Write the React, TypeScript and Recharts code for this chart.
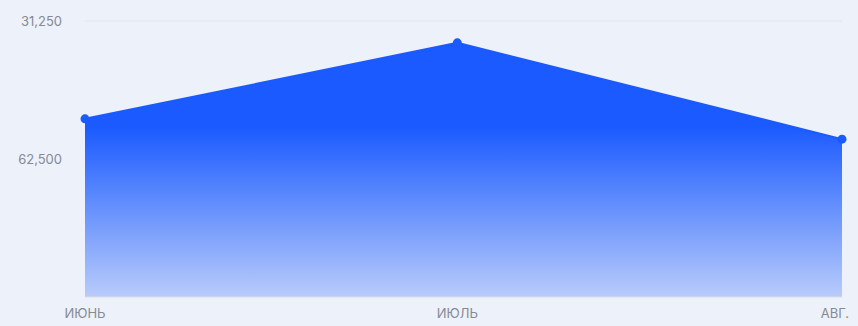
import { AreaChart, Area, XAxis, YAxis, CartesianGrid } from 'recharts';

const months = ['2023-06-01', '2023-07-01', '2023-08-01'];
const monthLabels = ['ИЮНЬ', 'ИЮЛЬ', 'АВГ.'];
const values = [53400, 36200, 58000];
const yTicks = [31250, 62500];

const times = months.map((m) => new Date(m + 'T00:00:00Z').getTime());
const data = times.map((t, i) => ({ t, value: values[i] }));

const fmt = (v: number) => v.toLocaleString('en-US');

const MonthTick = (props: any) => {
    const { y, payload } = props;
    const i = times.indexOf(payload.value);
    const cx = payload.coordinate ?? props.x;
    const last = i === times.length - 1;
    return (
        <text
            x={last ? cx + 7 : cx}
            y={y}
            dy="0.71em"
            textAnchor={last ? 'end' : 'middle'}
            fill="#858a95"
            fontSize={13}
            fontFamily="Inter, sans-serif"
        >
            {monthLabels[i]}
        </text>
    );
};

export default function App() {
    return (
        <div style={{ width: 858, height: 326, background: '#edf1f9' }}>
            <style>{`body{margin:0}`}</style>
            <AreaChart
                width={858}
                height={326}
                data={data}
                margin={{ top: 21, right: 16, bottom: 0, left: 0 }}
            >
                <defs>
                    <linearGradient id="fillBlue" x1="0" y1="0" x2="0" y2="1">
                        <stop offset="0%" stopColor="#1a5aff" stopOpacity={1} />
                        <stop offset="33%" stopColor="#1a5aff" stopOpacity={1} />
                        <stop offset="100%" stopColor="#1a5aff" stopOpacity={0.25} />
                    </linearGradient>
                </defs>
                <CartesianGrid vertical={false} stroke="#e1e6ef" />
                <XAxis
                    dataKey="t"
                    type="number"
                    scale="time"
                    domain={[times[0], times[times.length - 1]]}
                    ticks={times}
                    tick={<MonthTick />}
                    tickLine={false}
                    tickSize={0}
                    tickMargin={12}
                    axisLine={{ stroke: '#dde3ec' }}
                    height={29}
                />
                <YAxis
                    reversed
                    domain={[31250, 93750]}
                    ticks={yTicks}
                    tickFormatter={fmt}
                    axisLine={false}
                    tickLine={false}
                    tickSize={0}
                    tickMargin={23}
                    width={85}
                    tick={{ fill: '#858a95', fontSize: 13, fontFamily: 'Inter, sans-serif' }}
                />
                <Area
                    type="linear"
                    dataKey="value"
                    baseValue="dataMax"
                    stroke="#1a5aff"
                    strokeWidth={2}
                    fill="url(#fillBlue)"
                    fillOpacity={1}
                    dot={{ r: 4.5, fill: '#1a5aff', stroke: '#1a5aff', strokeWidth: 0 }}
                    activeDot={false}
                    isAnimationActive={false}
                />
            </AreaChart>
        </div>
    );
}
